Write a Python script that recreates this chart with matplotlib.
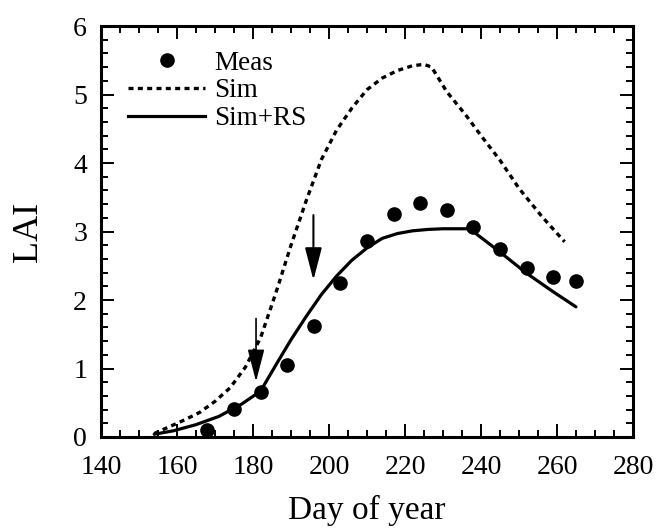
import matplotlib.pyplot as plt
from matplotlib.ticker import MultipleLocator
from matplotlib.lines import Line2D

# === DADOS ===
meas_day = [168, 175, 182, 189, 196, 203, 210, 217, 224, 231, 238, 245, 252, 259, 265]
meas_lai = [0.10, 0.41, 0.65, 1.05, 1.62, 2.25, 2.86, 3.25, 3.42, 3.32, 3.06, 2.74, 2.47, 2.33, 2.28]

sim_day = [154, 158, 162, 166, 170, 174, 178, 182, 186, 190, 194, 198, 202, 206, 210,
           214, 218, 222, 225, 227, 231, 236, 240, 245, 250, 256, 262]
sim_lai = [0.05, 0.15, 0.25, 0.36, 0.52, 0.72, 1.02, 1.45, 2.10, 2.80, 3.45, 4.05, 4.48,
           4.80, 5.07, 5.24, 5.35, 5.42, 5.44, 5.40, 5.04, 4.70, 4.40, 4.04, 3.63, 3.22, 2.85]

simrs_day = [154, 159, 165, 171, 177, 182, 186, 190, 194, 198, 202, 206, 210, 214, 218,
             222, 226, 230, 237, 241, 245, 252, 259, 265]
simrs_lai = [0.04, 0.09, 0.18, 0.30, 0.48, 0.67, 1.05, 1.42, 1.76, 2.08, 2.35, 2.58, 2.76,
             2.90, 2.97, 3.01, 3.03, 3.04, 3.04, 2.87, 2.70, 2.39, 2.12, 1.90]

# setas (dia, topo, ponta)
setas_dia = [180.8, 195.9]
setas_topo = [1.73, 3.24]
setas_ponta = [0.81, 2.29]

plt.rcParams['font.family'] = ['Liberation Serif', 'DejaVu Serif']

fig = plt.figure(figsize=(6.61, 5.31), dpi=100)
ax = fig.add_axes([101 / 661, 1 - 437 / 531, 532 / 661, 411 / 531])

estilo_sim = (0, (1.5, 1.3))
ax.plot(sim_day, sim_lai, color='black', lw=2.4, linestyle=estilo_sim)
ax.plot(simrs_day, simrs_lai, color='black', lw=2.3, solid_capstyle='round')
ax.plot(meas_day, meas_lai, 'o', color='black', markersize=9.5, linestyle='none')

for d, t, p, w in zip(setas_dia, setas_topo, setas_ponta, [1.2, 1.5]):
    ax.annotate('', xy=(d, p), xytext=(d, t),
                arrowprops=dict(arrowstyle='-|>,head_length=1.0,head_width=0.26',
                                color='black', lw=w, mutation_scale=20,
                                shrinkA=0, shrinkB=0))

handles = [
    Line2D([], [], marker='o', color='black', markersize=9.5, linestyle='none'),
    Line2D([], [], color='black', lw=2.4, linestyle=estilo_sim),
    Line2D([], [], color='black', lw=2.3),
]
ax.legend(handles, ['Meas', 'Sim', 'Sim+RS'], loc='upper left',
          bbox_to_anchor=(0.051, 0.94), frameon=False, fontsize=19.5,
          handlelength=2.85, handletextpad=0.32, labelspacing=0.1,
          borderpad=0, borderaxespad=0)

ax.set_xlim(140, 280)
ax.set_ylim(0, 6)
ax.xaxis.set_major_locator(MultipleLocator(20))
ax.xaxis.set_minor_locator(MultipleLocator(5))
ax.yaxis.set_major_locator(MultipleLocator(1))
ax.yaxis.set_minor_locator(MultipleLocator(0.2))
ax.tick_params(which='both', direction='in', top=True, right=True, width=1.4,
               labelsize=20)
ax.tick_params(which='major', length=9.5, pad=10)
ax.tick_params(axis='x', which='major', pad=13)
ax.tick_params(which='minor', length=5)
for s in ax.spines.values():
    s.set_linewidth(2.2)

ax.set_xlabel('Day of year', fontsize=24, labelpad=11)
ax.set_ylabel('LAI', fontsize=26, labelpad=20)

plt.savefig('out.png', dpi=100)
